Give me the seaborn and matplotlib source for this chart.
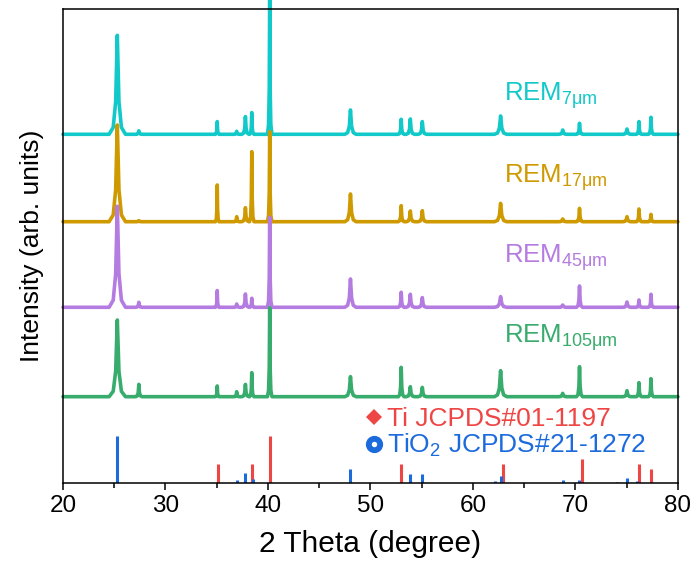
import matplotlib
matplotlib.use("Agg")
import numpy as np
import pandas as pd
import matplotlib.pyplot as plt
import seaborn as sns
from matplotlib.lines import Line2D

# ---------------- data ----------------
two_theta_range = [20, 80]
samples = ["7μm", "17μm", "45μm", "105μm"]
colors = ["#12C9C9", "#CF9A00", "#B47CE0", "#38AC6C"]

# shared peak positions (deg) and half base widths (deg)
peak_pos = [25.3, 27.4, 35.05, 36.95, 37.8, 38.42, 40.17, 48.05, 53.0, 53.89,
            55.06, 62.7, 68.76, 70.4, 75.03, 76.2, 77.37]
peak_halfwidth = [0.8, 0.3, 0.18, 0.25, 0.35, 0.22, 0.22, 0.55, 0.28, 0.4,
                  0.4, 0.6, 0.4, 0.3, 0.4, 0.25, 0.25]

# peak heights above each pattern's baseline (arb. units)
h_7 = [99, 3.5, 12.7, 3, 17.7, 21.7, 140, 24.3, 15, 15.3, 12.7, 18.3, 4.3, 11, 5.3, 12.7, 17]
h_17 = [96.7, 1, 36.7, 5, 14, 70, 90, 27.7, 16, 10.7, 11, 18.3, 2.7, 13.3, 5, 12.7, 7.3]
h_45 = [101, 5, 16.7, 3.3, 13.3, 9, 90, 28.3, 15, 13, 9.7, 10.7, 2.3, 21.3, 5.3, 7.3, 13]
h_105 = [76.7, 12.3, 10.7, 5, 12.3, 24, 89, 20, 29.3, 10, 9.3, 26, 3.3, 30, 6, 14, 18]
heights = [h_7, h_17, h_45, h_105]
baselines = [348.7, 261.3, 175.7, 86.3]

# reference cards (relative intensity, %)
ti_pos = [35.09, 38.42, 40.17, 53.0, 62.95, 70.66, 76.22, 77.37]
ti_int = [41, 41, 100, 41, 41, 51, 41, 31]
tio2_pos = [25.28, 36.95, 37.80, 38.58, 48.05, 53.89, 55.06, 62.12, 62.69,
            68.76, 70.31, 74.03, 75.03, 76.02]
tio2_int = [100, 7, 22, 9, 30, 19, 19, 4, 16, 7, 7, 3, 11, 4]
stick_scale = 46.7 / 100.0

label_x = 63.0
label_y = [382, 300, 220, 140]

# ---------------- build the long table ----------------
shape_dx = [-1.0, -0.5, -0.2, 0.0, 0.2, 0.5, 1.0]
shape_dy = [0.0, 0.07, 0.33, 1.0, 0.33, 0.07, 0.0]
rows = []
for name, hs, base in zip(samples, heights, baselines):
    rows.append((name, two_theta_range[0], base))
    for c, w, h in zip(peak_pos, peak_halfwidth, hs):
        for dx, dy in zip(shape_dx, shape_dy):
            rows.append((name, c + w * dx, base + h * dy))
    rows.append((name, two_theta_range[1], base))
df = pd.DataFrame(rows, columns=["sample", "two_theta", "intensity"])

# ---------------- style ----------------
sns.set_theme(style="ticks")
plt.rcParams["font.family"] = ["Liberation Sans", "DejaVu Sans"]
plt.rcParams["mathtext.fontset"] = "custom"
plt.rcParams["mathtext.rm"] = "Liberation Sans"
plt.rcParams["mathtext.it"] = "Liberation Sans:italic"
plt.rcParams["mathtext.bf"] = "Liberation Sans:bold"

fig = plt.figure(figsize=(6.96, 5.62), dpi=100)
ax = fig.add_axes([0.0905, 0.1406, 0.8835, 0.8425])

sns.lineplot(data=df, x="two_theta", y="intensity", hue="sample",
             hue_order=samples, palette=colors, estimator=None, sort=False,
             linewidth=2.6, legend=False, ax=ax, clip_on=False)

ax.vlines(ti_pos, 0, np.array(ti_int) * stick_scale, colors="#EE4545", linewidth=2.2)
ax.vlines(tio2_pos, 0, np.array(tio2_int) * stick_scale, colors="#1C6BDD", linewidth=2.2)

for name, col, y in zip(samples, colors, label_y):
    ax.text(label_x, y, r"REM$_\mathregular{" + name + "}$", color=col,
            fontsize=18.5, ha="left", va="baseline")

handles = [
    Line2D([], [], linestyle="none", marker="D", markersize=8.3,
           color="#EE4545", markeredgewidth=0),
    Line2D([], [], linestyle="none", marker="o", markersize=8.2,
           markerfacecolor="white", markeredgecolor="#1C6BDD", markeredgewidth=4.2),
]
leg = ax.legend(handles, ["Ti JCPDS#01-1197", r"TiO$_2$ JCPDS#21-1272"],
                labelcolor=["#EE4545", "#1C6BDD"], frameon=False,
                fontsize=19, handlelength=0.65, handletextpad=0.18,
                labelspacing=0.03, borderpad=0, borderaxespad=0,
                loc="upper left", bbox_to_anchor=(0.492, 0.160))

ax.set_xlim(*two_theta_range)
ax.set_ylim(0, 473.5)
ax.set_xticks([20, 30, 40, 50, 60, 70, 80])
ax.set_xticks([25, 35, 45, 55, 65, 75], minor=True)
ax.set_yticks([])
ax.tick_params(axis="x", which="major", direction="out", length=5, width=1.1,
               labelsize=17.5, pad=4, color="black", labelcolor="black")
ax.tick_params(axis="x", which="minor", direction="out", length=3.5, width=1.1,
               color="black")
for s in ax.spines.values():
    s.set_visible(True)
    s.set_color("black")
    s.set_linewidth(1.1)

ax.set_xlabel("2 Theta (degree)", fontsize=21.5, labelpad=9, color="black")
ax.set_ylabel("Intensity (arb. units)", fontsize=19, labelpad=14, color="black")

fig.savefig("out.png", dpi=100)
